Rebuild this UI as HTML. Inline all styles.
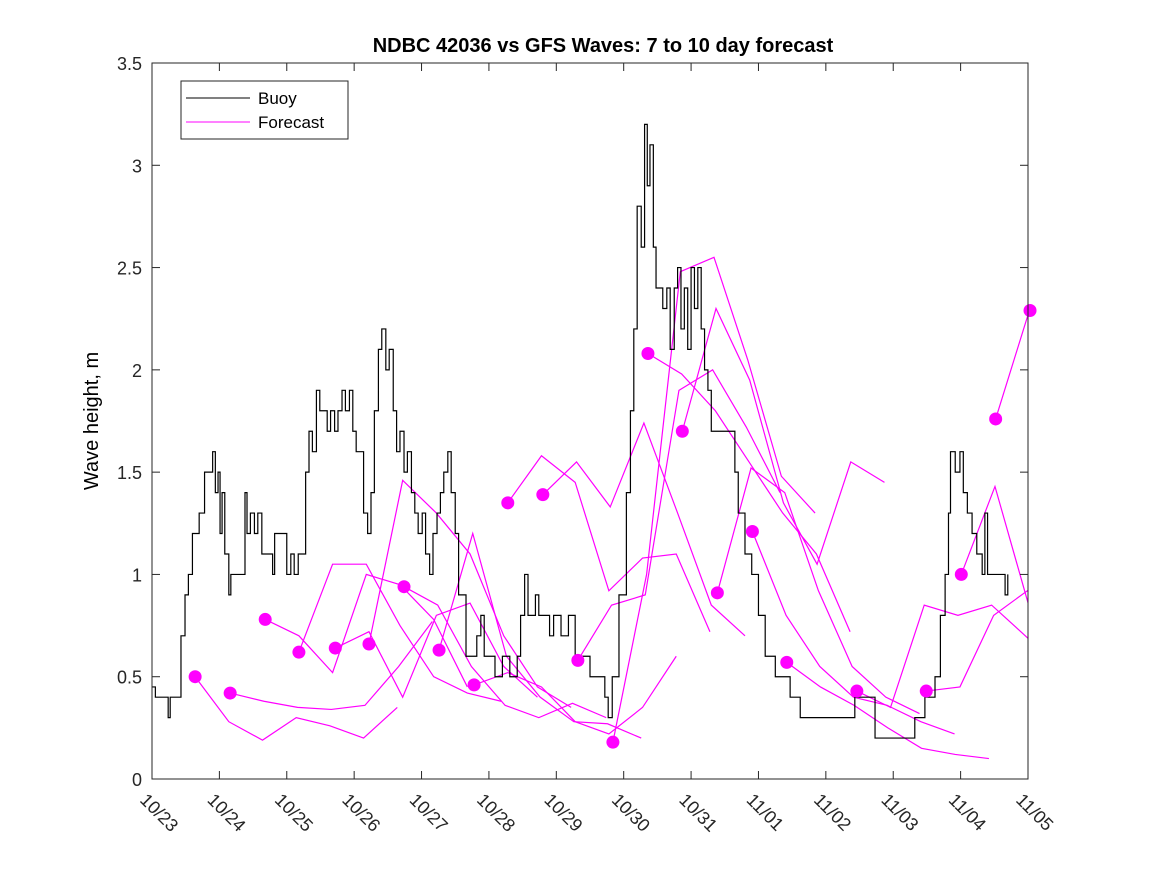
<!DOCTYPE html>
<html><head><meta charset="utf-8"><style>
body{margin:0;background:#fff;}
svg text{font-family:"Liberation Sans",sans-serif;}
</style></head><body>
<svg id="chart" width="1167" height="875">
<defs><clipPath id="pc"><rect x="152" y="63" width="876" height="716"/></clipPath></defs>
<rect x="0" y="0" width="1167" height="875" fill="#fff"/>
<text x="603" y="52" text-anchor="middle" font-size="20" font-weight="bold">NDBC 42036 vs GFS Waves: 7 to 10 day forecast</text>
<text transform="translate(98,421) rotate(-90)" text-anchor="middle" font-size="20">Wave height, m</text>
<g id="marks" clip-path="url(#pc)"></g>
<g id="axes"></g>
<rect x="152" y="63" width="876" height="716" fill="none" stroke="#262626" stroke-width="1"/>
<g>
<rect x="181" y="81" width="167" height="58" fill="#fff" stroke="#262626"/>
<line x1="186" y1="98" x2="250" y2="98" stroke="#000"/>
<text x="258" y="104" font-size="17">Buoy</text>
<line x1="186" y1="122" x2="250" y2="122" stroke="#ff00ff"/>
<text x="258" y="128" font-size="17">Forecast</text>
</g>
</svg>
<script>
const xTickLabels=["10/23","10/24","10/25","10/26","10/27","10/28","10/29","10/30","10/31","11/01","11/02","11/03","11/04","11/05"];
const yTicks=[0,0.5,1,1.5,2,2.5,3,3.5];
const buoyT=[0,0.05,0.22,0.24,0.27,0.38,0.43,0.49,0.54,0.60,0.70,0.78,0.87,0.90,0.94,0.98,1.01,1.04,1.08,1.14,1.17,1.30,1.38,1.41,1.46,1.52,1.57,1.63,1.73,1.79,1.82,1.95,2.00,2.06,2.11,2.17,2.28,2.33,2.38,2.44,2.49,2.60,2.65,2.71,2.76,2.82,2.87,2.93,2.98,3.03,3.14,3.20,3.25,3.30,3.36,3.41,3.47,3.52,3.58,3.63,3.68,3.74,3.79,3.85,3.90,3.95,4.01,4.06,4.12,4.17,4.23,4.28,4.33,4.39,4.44,4.50,4.55,4.66,4.77,4.82,4.88,4.93,4.98,5.09,5.20,5.31,5.42,5.47,5.53,5.58,5.69,5.74,5.85,5.90,5.96,6.07,6.18,6.28,6.39,6.50,6.61,6.72,6.77,6.83,6.93,7.04,7.10,7.15,7.20,7.26,7.31,7.35,7.39,7.44,7.48,7.53,7.58,7.64,7.69,7.75,7.80,7.85,7.90,7.95,8.00,8.05,8.10,8.15,8.20,8.25,8.30,8.65,8.70,8.80,8.90,9.00,9.10,9.25,9.47,9.62,10.43,10.73,11.32,11.47,11.62,11.70,11.77,11.82,11.85,11.92,11.99,12.04,12.10,12.17,12.24,12.32,12.36,12.40,12.66,12.70];
const buoyV=[0.45,0.4,0.4,0.3,0.4,0.4,0.7,0.9,1.0,1.2,1.3,1.5,1.5,1.6,1.4,1.5,1.2,1.4,1.1,0.9,1.0,1.0,1.4,1.2,1.3,1.2,1.3,1.1,1.1,1.0,1.2,1.2,1.0,1.1,1.0,1.1,1.5,1.7,1.6,1.9,1.8,1.7,1.8,1.7,1.8,1.9,1.8,1.9,1.7,1.6,1.3,1.2,1.4,1.8,2.1,2.2,2.0,2.1,1.8,1.6,1.7,1.5,1.6,1.4,1.3,1.2,1.3,1.1,1.0,1.2,1.3,1.4,1.5,1.6,1.4,1.2,0.9,0.6,0.6,0.7,0.8,0.6,0.6,0.5,0.6,0.5,0.6,0.8,1.0,0.8,0.9,0.8,0.8,0.7,0.8,0.7,0.8,0.6,0.6,0.5,0.5,0.4,0.3,0.5,0.9,1.4,1.8,2.2,2.8,2.6,3.2,2.9,3.1,2.6,2.4,2.4,2.3,2.4,2.1,2.4,2.5,2.2,2.4,2.1,2.5,2.3,2.5,2.2,2.0,1.9,1.7,1.5,1.3,1.1,1.0,0.8,0.6,0.5,0.4,0.3,0.4,0.2,0.3,0.4,0.5,0.8,1.0,1.3,1.6,1.5,1.6,1.4,1.3,1.2,1.1,1.0,1.3,1.0,0.9,1.0];
const fcStart=[0.64,1.16,1.68,2.18,2.72,3.22,3.74,4.26,4.78,5.28,5.80,6.32,6.84,7.36,7.87,8.39,8.91,9.42,10.46,11.49,12.01,12.52,13.03];
const fcValues=[
[0.50,0.28,0.19,0.30,0.26,0.20,0.35],
[0.42,0.38,0.35,0.34,0.36,0.55,0.77],
[0.78,0.70,0.52,1.00,0.95,0.78,0.45],
[0.62,1.05,1.05,0.75,0.50,0.42,0.38],
[0.64,0.72,0.40,0.80,0.86,0.55,0.40],
[0.66,1.46,1.30,1.10,0.70,0.45,0.35],
[0.94,0.85,0.55,0.36,0.30,0.37,0.30],
[0.63,1.20,0.60,0.40,0.28,0.27,0.20],
[0.46,0.52,0.45,0.28,0.22,0.35,0.60],
[1.35,1.58,1.45,0.92,1.08,1.10,0.72],
[1.39,1.55,1.33,1.74,1.30,0.85,0.70],
[0.58,0.85,0.90,1.90,2.00,1.72,1.40],
[0.18,1.00,2.48,2.55,2.05,1.48,1.30],
[2.08,1.98,1.80,1.55,1.30,1.10,0.72],
[1.70,2.30,1.95,1.35,1.05,1.55,1.45],
[0.91,1.52,1.40,0.92,0.55,0.40,0.32],
[1.21,0.80,0.55,0.40,0.36,0.28,0.22],
[0.57,0.45,0.36,0.25,0.15,0.12,0.10],
[0.43,0.35,0.85,0.80,0.85,0.70,0.55],
[0.43,0.45,0.80,0.92,0.70,0.55,0.50],
[1.00,1.43,0.85,0.60,0.50,0.35,0.40],
[1.76,2.29,1.85,1.60,1.00,1.62,1.45],
[2.29,2.10,1.75,1.50,1.20,1.00,0.90]
];
const NS="http://www.w3.org/2000/svg";
const X0=152,X1=1028,Y0=779,Y1=63,DAYS=13,YMAX=3.5;
function xs(d){return X0+(X1-X0)*d/DAYS;}
function ys(v){return Y0-(Y0-Y1)*v/YMAX;}
const marks=document.getElementById('marks'),axes=document.getElementById('axes');
function mk(tag,attrs,parent){const e=document.createElementNS(NS,tag);for(const k in attrs)e.setAttribute(k,attrs[k]);parent.appendChild(e);return e;}
yTicks.forEach(v=>{
  const y=ys(v);
  const t=mk('line',{x1:X0,x2:X0+8,y1:y,y2:y,stroke:'#262626'},axes);
  
  
  const t2=mk('line',{x1:X1-8,x2:X1,y1:y,y2:y,stroke:'#262626'},axes);
  
  
  const l=mk('text',{x:X0-10,y:y+7,'text-anchor':'end','font-size':'18',fill:'#262626'},axes);
  l.textContent=String(v);
  
  
});
xTickLabels.forEach((s,i)=>{
  const x=xs(i);
  const t=mk('line',{x1:x,x2:x,y1:Y0,y2:Y0-8,stroke:'#262626'},axes);
  
  
  const t2=mk('line',{x1:x,x2:x,y1:Y1,y2:Y1+8,stroke:'#262626'},axes);
  
  
  const l=mk('text',{transform:`translate(${x-13},${Y0+22}) rotate(45)`,'font-size':'18',fill:'#262626'},axes);
  l.textContent=s;
  
  
});
fcStart.forEach((s,i)=>{
  const vals=fcValues[i];
  let pts=[];
  vals.forEach((v,j)=>{const d=s+j*0.5;pts.push(xs(d)+','+ys(v));});
  const p=mk('polyline',{points:pts.join(' '),fill:'none',stroke:'#ff00ff','stroke-width':'1.2'},marks);
  
  
});
let bp=[];
buoyT.forEach((t,i)=>{
  if(i>0)bp.push(xs(t)+','+ys(buoyV[i-1]));
  bp.push(xs(t)+','+ys(buoyV[i]));
});
const b=mk('polyline',{points:bp.join(' '),fill:'none',stroke:'#000','stroke-width':'1.2'},marks);


fcStart.forEach((s,i)=>{
  const c=mk('circle',{cx:xs(s),cy:ys(fcValues[i][0]),r:6.5,fill:'#ff00ff'},axes);
  
  
});
</script>
</body></html>
